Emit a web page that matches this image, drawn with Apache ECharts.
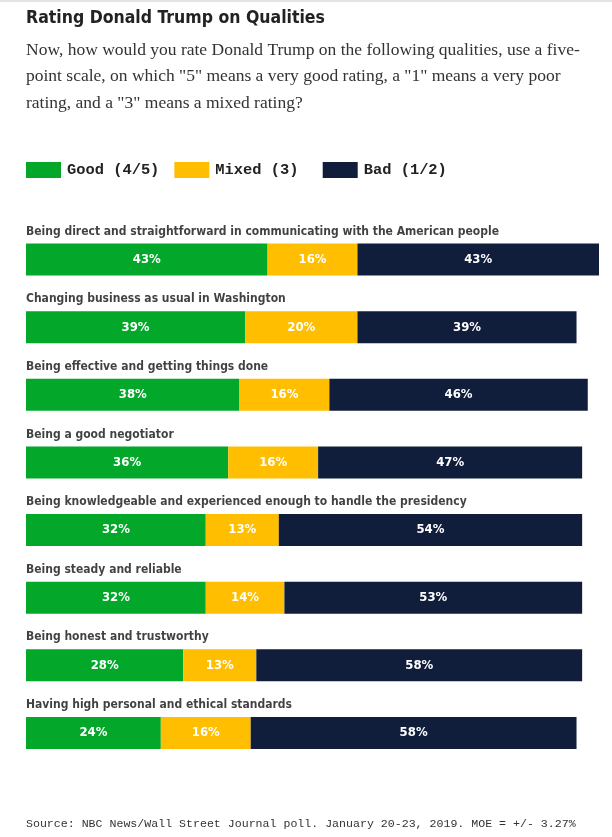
<!DOCTYPE html>
<html>
<head>
<meta charset="utf-8">
<script src="https://cdn.jsdelivr.net/npm/echarts@6/dist/echarts.min.js"></script>
<style>
  html, body { margin: 0; padding: 0; background: #fff; }
  #chart { width: 612px; height: 837px; }
</style>
</head>
<body>
<div id="chart"></div>
<script>
var qualities = [
  'Being direct and straightforward in communicating with the American people',
  'Changing business as usual in Washington',
  'Being effective and getting things done',
  'Being a good negotiator',
  'Being knowledgeable and experienced enough to handle the presidency',
  'Being steady and reliable',
  'Being honest and trustworthy',
  'Having high personal and ethical standards'
]
var good = [43, 39, 38, 36, 32, 32, 28, 24]
var mixed = [16, 20, 16, 16, 13, 14, 13, 16]
var bad = [43, 39, 46, 47, 54, 53, 58, 58]
var seriesNames = ['Good (4/5)', 'Mixed (3)', 'Bad (1/2)']

var chart = echarts.init(document.getElementById('chart'))
var condensed = '"DejaVu Sans Condensed", Roboto, sans-serif'
var mono = '"Liberation Mono", "DejaVu Sans Mono", monospace'

function makeSeries (name, data) {
  return {
    name: name,
    type: 'bar',
    stack: 'total',
    data: data,
    barWidth: 32,
    clip: false,
    label: {
      show: true,
      position: 'inside',
      formatter: '{c}%',
      color: '#fff',
      fontFamily: condensed,
      fontWeight: 'bold',
      fontSize: 13
    }
  }
}

// row titles sit just above each bar, anchored at the start of the value axis
var rowTitles = {
  name: 'rowTitles',
  type: 'scatter',
  silent: true,
  symbolSize: 0,
  data: qualities.map(function (q) {
    return { name: q, value: [0, q] }
  }),
  label: {
    show: true,
    position: 'right',
    distance: 0,
    offset: [0, -28],
    formatter: '{b}',
    fontFamily: condensed,
    fontWeight: 'bold',
    fontSize: 12,
    color: '#111'
  }
}

var option = {
  color: ['#03a82a', '#ffbe00', '#111e3b'],
  animation: false,
  graphic: [
    { type: 'rect', shape: { x: 0, y: 0, width: 612, height: 2 }, style: { fill: '#e4e4e4' } }
  ],
  title: [
    {
      text: 'Rating Donald Trump on Qualities',
      subtext: 'Now, how would you rate Donald Trump on the following qualities, use a five-\npoint scale, on which "5" means a very good rating, a "1" means a very poor\nrating, and a "3" means a mixed rating?',
      left: 21,
      top: 1,
      itemGap: 7,
      textStyle: {
        fontFamily: condensed,
        fontWeight: 'bold',
        fontSize: 17.5,
        lineHeight: 24,
        color: '#222'
      },
      subtextStyle: {
        fontFamily: '"Liberation Serif", "DejaVu Serif", serif',
        fontSize: 17.5,
        lineHeight: 26.5,
        color: '#333'
      }
    },
    {
      text: 'Source: NBC News/Wall Street Journal poll. January 20-23, 2019. MOE = +/- 3.27%',
      left: 21,
      top: 813,
      textStyle: {
        fontFamily: mono,
        fontWeight: 'normal',
        fontSize: 11.6,
        color: '#333'
      }
    }
  ],
  legend: {
    data: seriesNames,
    left: 21,
    top: 157,
    icon: 'rect',
    itemWidth: 35,
    itemHeight: 16,
    itemGap: 15,
    // monospace labels padded to equal length so the items sit on a regular pitch
    formatter: function (name) {
      return name.padEnd(10, ' ')
    },
    textStyle: {
      fontFamily: mono,
      fontWeight: 'bold',
      fontSize: 15.4,
      color: '#222',
      padding: [0, 0, 0, 1]
    }
  },
  grid: {
    left: 26,
    right: 13,
    top: 225.7,
    bottom: 70.3
  },
  xAxis: {
    type: 'value',
    min: 0,
    max: 102,
    show: false
  },
  yAxis: {
    type: 'category',
    data: qualities,
    inverse: true,
    axisLine: { show: false },
    axisTick: { show: false },
    splitLine: { show: false },
    axisLabel: { show: false }
  },
  series: [
    makeSeries(seriesNames[0], good),
    makeSeries(seriesNames[1], mixed),
    makeSeries(seriesNames[2], bad),
    rowTitles
  ]
}
chart.setOption(option)
</script>
</body>
</html>
